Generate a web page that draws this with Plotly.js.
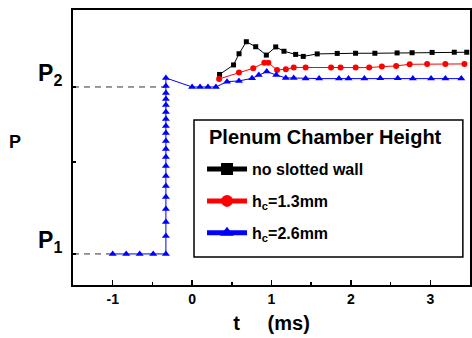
<!DOCTYPE html>
<html><head><meta charset="utf-8">
<script src="https://cdn.plot.ly/plotly-3.0.1.min.js"></script>
<style>html,body{margin:0;padding:0;background:#fff}#chart{width:472px;height:338px}</style>
</head><body><div id="chart"></div>
<script>
// time t (ms) and normalised pressure (P1 = 0, P2 = 1)
const blackT = [0.346, 0.522, 0.591, 0.683, 0.801, 0.935, 1.053, 1.157, 1.304, 1.40, 1.576, 1.828, 2.059, 2.302, 2.582, 2.771, 3.023, 3.302, 3.459];
const blackP = [1.075, 1.132, 1.199, 1.271, 1.241, 1.191, 1.240, 1.214, 1.195, 1.183, 1.198, 1.201, 1.202, 1.202, 1.204, 1.205, 1.207, 1.208, 1.208];

const redT = [0.34, 0.59, 0.77, 0.91, 0.96, 1.07, 1.18, 1.28, 1.43, 1.75, 1.87, 2.06, 2.23, 2.39, 2.57, 2.74, 2.96, 3.19, 3.43];
const redP = [1.048, 1.086, 1.112, 1.145, 1.145, 1.102, 1.106, 1.117, 1.117, 1.116, 1.116, 1.116, 1.116, 1.122, 1.126, 1.136, 1.138, 1.138, 1.138];

const blueT = [-1.0, -0.83, -0.66, -0.49, -0.33,
  -0.33, -0.33, -0.33, -0.33, -0.33, -0.33, -0.33, -0.33, -0.33, -0.33,
  -0.33, -0.33, -0.33, -0.33, -0.33, -0.33, -0.33, -0.33, -0.33,
  0.0, 0.1, 0.2, 0.3,
  0.44, 0.59, 0.755, 0.84, 0.94, 1.06, 1.18, 1.28, 1.43, 1.60, 1.85, 1.97, 2.17, 2.37, 2.59, 2.78, 3.01, 3.19, 3.39];
const blueP = [0, 0, 0, 0, 0,
  0.108, 0.192, 0.269, 0.341, 0.407, 0.467, 0.527, 0.581, 0.629, 0.677,
  0.725, 0.766, 0.808, 0.850, 0.892, 0.928, 0.964, 1.006, 1.054,
  1.0, 1.0, 1.0, 1.0,
  1.032, 1.036, 1.052, 1.072, 1.092, 1.072, 1.054, 1.054, 1.05, 1.05, 1.05, 1.05, 1.05, 1.052, 1.052, 1.05, 1.05, 1.05, 1.05];

const seriesNames = ['no slotted wall', 'h<sub>c</sub>=1.3mm', 'h<sub>c</sub>=2.6mm'];
const legendTitle = 'Plenum Chamber Height';
const xTickVals = [-1, 0, 1, 2, 3];
const xTickText = ['-1', '0', '1', '2', '3'];
const yTickVals = [0, 0.55, 1];
const yTickText = ['P<sub>1</sub>', '', 'P<sub>2</sub>'];
const refLevels = [0, 1];          // P1, P2
const refEnds = [-1.0, -0.33];     // where the dashed guides stop
const xTitle = 't\u00a0\u00a0\u00a0\u00a0\u00a0(ms)';
const yTitle = 'P';

const FONT = 'Liberation Sans, Arial, sans-serif';
const xRange = [-1.5, 3.5];
const yRange = [-0.186, 1.461];

const traces = [
  {x: blackT, y: blackP, name: seriesNames[0], legendgroup: 'a', mode: 'lines+markers',
   line: {color: '#000', width: 1}, marker: {symbol: 'square', size: 5, color: '#000'}},
  {x: redT, y: redP, name: seriesNames[1], legendgroup: 'b', mode: 'lines+markers',
   line: {color: '#ff0000', width: 1}, marker: {symbol: 'circle', size: 6, color: '#ff0000'}},
  {x: blueT, y: blueP, name: seriesNames[2], legendgroup: 'c', mode: 'lines+markers',
   line: {color: '#0000ff', width: 1}, marker: {symbol: 'triangle-up', size: 7, color: '#0000ff'}}
];

const shapes = refLevels.map((lv, i) => ({
  type: 'line', xref: 'x', yref: 'y', x0: xRange[0], x1: refEnds[i], y0: lv, y1: lv,
  line: {color: '#333', width: 1, dash: '6px,5px'}, layer: 'below'
}));
// legend frame
shapes.push({type: 'rect', xref: 'paper', yref: 'paper', x0: 0.3048, x1: 0.982, y0: 0.1018, y1: 0.6,
  line: {color: '#000', width: 1.5}, fillcolor: '#fff', layer: 'below'});

const layout = {
  width: 472, height: 338,
  margin: {l: 73, r: 2, t: 10, b: 53},
  paper_bgcolor: '#fff', plot_bgcolor: '#fff',
  font: {family: FONT, color: '#000', weight: 'bold'},
  showlegend: true,
  xaxis: {
    range: xRange, showgrid: false, zeroline: false,
    showline: true, mirror: true, linecolor: '#000', linewidth: 2,
    tickmode: 'array', tickvals: xTickVals, ticktext: xTickText,
    ticks: 'inside', ticklen: 5, tickwidth: 1.5, tickcolor: '#000',
    tickfont: {family: FONT, size: 14, weight: 'bold'},
    minor: {dtick: 0.5, tick0: 0, ticks: 'inside', ticklen: 3, tickwidth: 1.5, tickcolor: '#000'},
    title: {text: xTitle, font: {family: FONT, size: 20, weight: 'bold'}, standoff: 10}
  },
  yaxis: {
    range: yRange, showgrid: false, zeroline: false,
    showline: true, mirror: true, linecolor: '#000', linewidth: 2,
    tickmode: 'array', tickvals: yTickVals, ticktext: yTickText,
    ticks: 'inside', ticklen: 3, tickwidth: 1.5, tickcolor: '#000',
    ticklabelshift: -14, ticklabelstandoff: 4,
    tickfont: {family: FONT, size: 23, weight: 'bold'}
  },
  annotations: [
    {text: yTitle, xref: 'paper', yref: 'paper', x: -0.145, y: 0.52, xanchor: 'center', yanchor: 'middle',
     showarrow: false, font: {family: FONT, size: 18, weight: 'bold'}},
    {text: legendTitle, xref: 'paper', yref: 'paper', x: 0.3375, y: 0.538, xanchor: 'left', yanchor: 'middle',
     showarrow: false, font: {family: FONT, size: 20, weight: 'bold'}}
  ],
  shapes: shapes,
  legend: {
    x: 0.325, y: 0.483, xanchor: 'left', yanchor: 'top',
    bgcolor: 'rgba(0,0,0,0)', borderwidth: 0,
    font: {family: FONT, size: 16, weight: 'bold'},
    itemsizing: 'constant', tracegroupgap: 8, itemwidth: 40
  }
};

Plotly.newPlot('chart', traces, layout, {displayModeBar: false, staticPlot: true});
</script>
</body></html>
